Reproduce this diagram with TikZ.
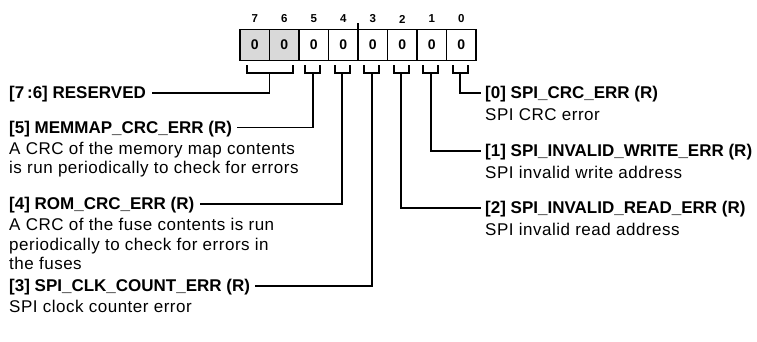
\documentclass[tikz,border=0pt]{standalone}
\usepackage{fontspec}
\setmainfont{Liberation Sans}
\newfontfamily\descfont[LetterSpace=3]{Liberation Sans}
\usetikzlibrary{positioning}
\definecolor{regGray}{RGB}{217,217,217}

\begin{document}
\begin{tikzpicture}[x=1pt, y=-1pt,
    cell/.style={draw, line width=1.6pt, minimum width=29.5pt, minimum height=31pt,
                 inner sep=0pt, outer sep=0pt, font=\bfseries\fontsize{14}{16}\selectfont},
    bitnum/.style={font=\bfseries\fontsize{11.5}{13}\selectfont},
    head/.style={anchor=west, inner sep=0pt, font=\bfseries\fontsize{17}{20}\selectfont},
    desc/.style={inner sep=0pt, align=left, font=\descfont\fontsize{17}{19.5}\selectfont},
    wire/.style={line width=1.6pt}
  ]
  \useasboundingbox (0,0) rectangle (757,341);

  % Register cells and bit numbers
  \foreach \b/\f [count=\i from 0] in {7/regGray,6/regGray,5/white,4/white,3/white,2/white,1/white,0/white} {
    \node[cell, fill=\f] (c\b) at (254.75+29.5*\i, 45) {0};
    \node[bitnum] (n\b) at (254.75+29.5*\i, 19) {\b};
  }
  \draw[wire] (c4.north east) -- ++(0,-6.5);

  % Brackets under the cells
  \draw[wire] ([xshift=-7.5pt,yshift=-4.5pt]c7.south) -- ++(0,8) -- ++(46,0) -- ++(0,-8);
  \coordinate (s76) at ([yshift=-12.5pt]c7.south east);
  \foreach \b in {5,...,0} {
    \draw[wire] ([xshift=-8.5pt,yshift=-4.5pt]c\b.south) -- ++(0,8) -- ++(15,0) -- ++(0,-8);
    \coordinate (s\b) at ([xshift=-1pt,yshift=-12.5pt]c\b.south);
  }

  % Left-hand fields
  \node[head] (res) at (9,94.5) {[7\,:6] RESERVED};
  \node[head] (mem) at (9,129) {[5] MEMMAP\_CRC\_ERR (R)};
  \node[desc, below right=4.7pt and 0pt of mem.south west] (memd)
    {A CRC of the memory map contents\\is run periodically to check for errors};
  \node[head] (rom) at (9,205.5) {[4] ROM\_CRC\_ERR (R)};
  \node[desc, below right=4.7pt and 0pt of rom.south west] (romd)
    {A CRC of the fuse contents is run\\periodically to check for errors in\\the fuses};
  \node[head] (clk) at (9,287.5) {[3] SPI\_CLK\_COUNT\_ERR (R)};
  \node[desc, below right=4.7pt and 0pt of clk.south west] (clkd)
    {SPI clock counter error};

  % Right-hand fields
  \node[head] (crc) at (485,94.5) {[0] SPI\_CRC\_ERR (R)};
  \node[desc, below right=5.5pt and 0pt of crc.south west] (crcd) {SPI CRC error};
  \node[head] (wr) at (485,152.5) {[1] SPI\_INVALID\_WRITE\_ERR (R)};
  \node[desc, below right=5.5pt and 0pt of wr.south west] (wrd) {SPI invalid write address};
  \node[head] (rd) at (485,209.5) {[2] SPI\_INVALID\_READ\_ERR (R)};
  \node[desc, below right=5.5pt and 0pt of rd.south west] (rdd) {SPI invalid read address};

  % Leader lines
  \draw[wire] (s76) |- ([xshift=6pt,yshift=1.5pt]res.east);
  \draw[wire] (s5) |- ([xshift=5pt,yshift=1.5pt]mem.east);
  \draw[wire] (s4) |- ([xshift=5pt,yshift=1.5pt]rom.east);
  \draw[wire] (s3) |- ([xshift=5pt,yshift=1.5pt]clk.east);
  \draw[wire] (s2) |- ([xshift=-4pt,yshift=1.5pt]rd.west);
  \draw[wire] (s1) |- ([xshift=-4pt,yshift=1.5pt]wr.west);
  \draw[wire] (s0) |- ([xshift=-4pt,yshift=1.5pt]crc.west);
\end{tikzpicture}
\end{document}
